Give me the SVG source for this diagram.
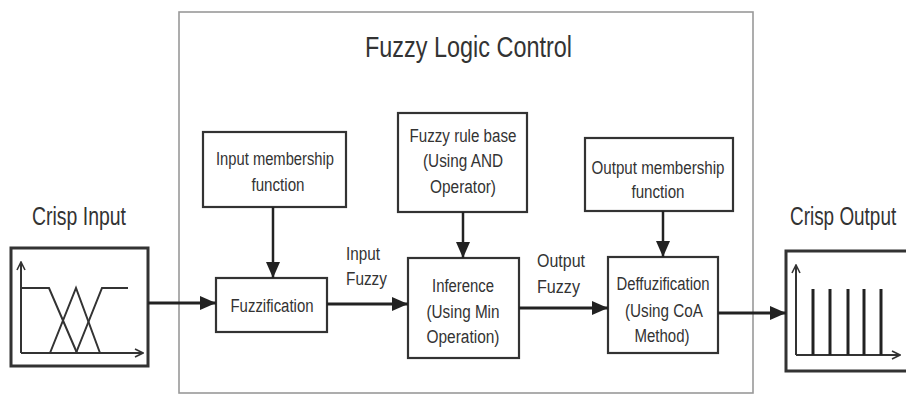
<svg xmlns="http://www.w3.org/2000/svg" width="906" height="396" viewBox="0 0 906 396">
<defs>
<style>
.t{font-family:"Liberation Sans",Arial,sans-serif;fill:#333;}
.bx{font-size:18px;text-anchor:middle;}
.lb{font-size:18px;}
.big{font-size:25px;}
.box{fill:#fff;stroke:#333;stroke-width:2.2;}
.ln{stroke:#222;stroke-width:3;fill:none;}
.vl{stroke:#222;stroke-width:2.5;fill:none;}
.ax{stroke:#333;stroke-width:2;fill:none;}
</style>
<marker id="ah" markerUnits="userSpaceOnUse" markerWidth="16" markerHeight="14" refX="16" refY="7" orient="auto">
<path d="M0,0 L16,7 L0,14 z" fill="#222"/>
</marker>
<marker id="ax" markerUnits="userSpaceOnUse" markerWidth="10" markerHeight="10" refX="9" refY="5" orient="auto">
<path d="M1,1 L9,5 L1,9" fill="none" stroke="#333" stroke-width="1.6"/>
</marker>
</defs>
<rect width="906" height="396" fill="#fff"/>
<g id="frame">
<rect x="179" y="12" width="574" height="381" fill="none" stroke="#999" stroke-width="1.6"/>
<text class="t" x="365" y="57" font-size="29" textLength="207" lengthAdjust="spacingAndGlyphs">Fuzzy Logic Control</text>
</g>
<g id="crisp-input">
<text class="t big" x="32" y="225" textLength="94" lengthAdjust="spacingAndGlyphs">Crisp Input</text>
<rect x="11" y="248" width="137" height="118" fill="#fff" stroke="#333" stroke-width="3"/>
<path class="ax" d="M21,353 V262" marker-end="url(#ax)"/>
<path class="ax" d="M21,353 H143" marker-end="url(#ax)"/>
<path class="ax" d="M21,288 H49 L77,353"/>
<path class="ax" d="M50,353 L76,288 L100,353"/>
<path class="ax" d="M76,353 L102,288 H128"/>
</g>
<g id="input-membership">
<rect class="box" x="203" y="132" width="143" height="75"/>
<text class="t bx" x="275" y="165" textLength="118" lengthAdjust="spacingAndGlyphs">Input membership</text>
<text class="t bx" x="278" y="191" textLength="53" lengthAdjust="spacingAndGlyphs">function</text>
</g>
<g id="fuzzification">
<rect class="box" x="216" y="278" width="111" height="54"/>
<text class="t bx" x="272" y="312" textLength="83" lengthAdjust="spacingAndGlyphs">Fuzzification</text>
</g>
<g id="rule-base">
<rect class="box" x="398" y="113" width="129" height="99"/>
<text class="t bx" x="463" y="142" textLength="107" lengthAdjust="spacingAndGlyphs">Fuzzy rule base</text>
<text class="t bx" x="463" y="167" textLength="80" lengthAdjust="spacingAndGlyphs">(Using AND</text>
<text class="t bx" x="463" y="193" textLength="66" lengthAdjust="spacingAndGlyphs">Operator)</text>
</g>
<g id="inference">
<rect class="box" x="408" y="258" width="111" height="100"/>
<text class="t bx" x="463" y="292" textLength="62" lengthAdjust="spacingAndGlyphs">Inference</text>
<text class="t bx" x="463" y="318" textLength="73" lengthAdjust="spacingAndGlyphs">(Using Min</text>
<text class="t bx" x="463" y="343" textLength="73" lengthAdjust="spacingAndGlyphs">Operation)</text>
</g>
<g id="output-membership">
<rect class="box" x="585" y="138" width="148" height="73"/>
<text class="t bx" x="658" y="174" textLength="133" lengthAdjust="spacingAndGlyphs">Output membership</text>
<text class="t bx" x="658" y="198" textLength="53" lengthAdjust="spacingAndGlyphs">function</text>
</g>
<g id="defuzzification">
<rect class="box" x="608" y="257" width="110" height="96"/>
<text class="t bx" x="663" y="290" textLength="93" lengthAdjust="spacingAndGlyphs">Deffuzification</text>
<text class="t bx" x="664" y="317" textLength="78" lengthAdjust="spacingAndGlyphs">(Using CoA</text>
<text class="t bx" x="662" y="342" textLength="55" lengthAdjust="spacingAndGlyphs">Method)</text>
</g>
<g id="crisp-output">
<text class="t big" transform="translate(790,225) scale(0.757,1)" x="0" y="0">Crisp Output</text>
<rect x="786" y="251" width="130" height="120" fill="#fff" stroke="#333" stroke-width="3"/>
<path class="ax" d="M796,355 V265" marker-end="url(#ax)"/>
<path class="ax" d="M796,355 H900" marker-end="url(#ax)"/>
<g stroke="#222" stroke-width="3">
<line x1="813" y1="289" x2="813" y2="355"/>
<line x1="830" y1="289" x2="830" y2="355"/>
<line x1="848" y1="289" x2="848" y2="355"/>
<line x1="864" y1="289" x2="864" y2="355"/>
<line x1="881" y1="289" x2="881" y2="355"/>
</g>
</g>
<g id="connectors">
<path class="ln" d="M148,303 H216" marker-end="url(#ah)"/>
<path class="ln" d="M327,304 H408" marker-end="url(#ah)"/>
<path class="ln" d="M519,308 H608" marker-end="url(#ah)"/>
<path class="ln" d="M718,313 H786" marker-end="url(#ah)"/>
<path class="vl" d="M273,207 V278" marker-end="url(#ah)"/>
<path class="vl" d="M463,212 V258" marker-end="url(#ah)"/>
<path class="vl" d="M663,211 V257" marker-end="url(#ah)"/>
<text class="t lb" x="346" y="260" textLength="34" lengthAdjust="spacingAndGlyphs">Input</text>
<text class="t lb" x="346" y="285" textLength="41" lengthAdjust="spacingAndGlyphs">Fuzzy</text>
<text class="t lb" x="537" y="267" textLength="48" lengthAdjust="spacingAndGlyphs">Output</text>
<text class="t lb" x="537" y="293" textLength="43" lengthAdjust="spacingAndGlyphs">Fuzzy</text>
</g>
</svg>
